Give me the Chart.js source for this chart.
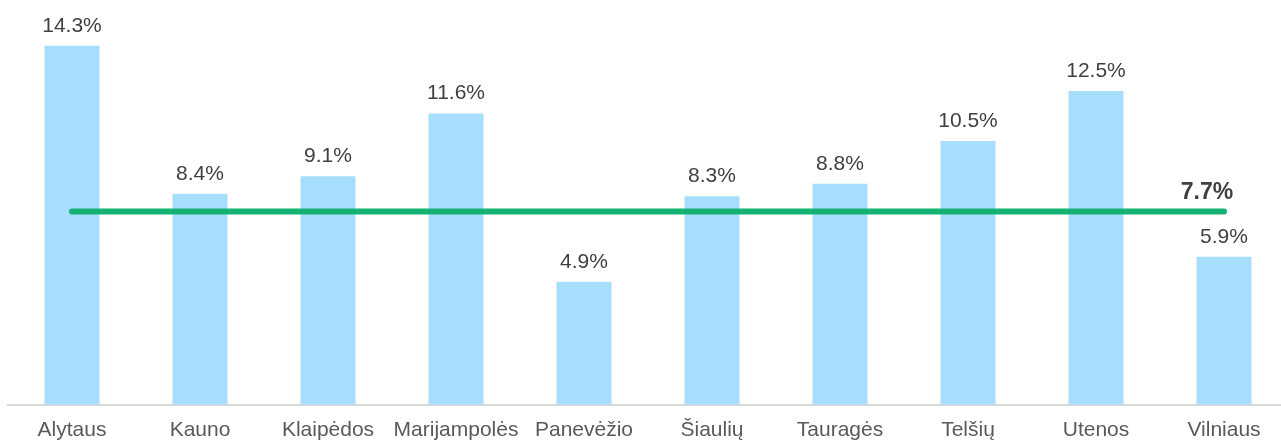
<!DOCTYPE html>
<html>
<head>
<meta charset="utf-8">
<script src="https://cdn.jsdelivr.net/npm/chart.js@4"></script>
<style>
  html, body { margin: 0; padding: 0; background: #fff; overflow: hidden; }
  #wrap { width: 1288px; height: 456px; }
</style>
</head>
<body>
<div id="wrap"><canvas id="chart"></canvas></div>
<script>
// duomenys
const categories = ["Alytaus", "Kauno", "Klaipėdos", "Marijampolės", "Panevėžio", "Šiaulių", "Tauragės", "Telšių", "Utenos", "Vilniaus"];
const rates = [14.3, 8.4, 9.1, 11.6, 4.9, 8.3, 8.8, 10.5, 12.5, 5.9];
const averageValue = 7.7;
const average = categories.map(() => averageValue);

// uzrasai virs stulpeliu + vidurkio reiksme
const labelPlugin = {
  id: "labels",
  afterDatasetsDraw(chart) {
    const ctx = chart.ctx;
    const bars = chart.getDatasetMeta(0).data;
    ctx.save();
    ctx.font = "21px 'Liberation Sans', Arial, sans-serif";
    ctx.fillStyle = "#404040";
    ctx.textAlign = "center";
    ctx.textBaseline = "alphabetic";
    bars.forEach((bar, i) => {
      ctx.fillText(rates[i].toFixed(1) + "%", bar.x, bar.y - 14);
    });
    const pts = chart.getDatasetMeta(1).data;
    const last = pts[pts.length - 1];
    ctx.font = "bold 23px 'Liberation Sans', Arial, sans-serif";
    ctx.fillText(averageValue.toFixed(1) + "%", last.x - 17, last.y - 12);
    ctx.restore();
  }
};

new Chart(document.getElementById("chart"), {
  type: "bar",
  data: {
    labels: categories,
    datasets: [
      {
        type: "bar",
        data: rates,
        backgroundColor: "#a7ddfd",
        barPercentage: 0.43,
        categoryPercentage: 1,
        order: 2
      },
      {
        type: "line",
        data: average,
        borderColor: "#15b173",
        borderWidth: 6,
        borderCapStyle: "round",
        pointRadius: 0,
        fill: false,
        order: 1
      }
    ]
  },
  options: {
    responsive: true,
    maintainAspectRatio: false,
    animation: false,
    layout: { padding: { left: 8, right: 0, top: 3, bottom: 0 } },
    plugins: { legend: { display: false }, tooltip: { enabled: false } },
    scales: {
      x: {
        grid: { display: false, drawTicks: false },
        border: { display: true, color: "#d9d9d9", width: 2 },
        ticks: {
          color: "#595959",
          font: { family: "'Liberation Sans', Arial, sans-serif", size: 21 },
          padding: 13,
          autoSkip: false,
          maxRotation: 0
        }
      },
      y: {
        display: false,
        min: 0,
        max: 16
      }
    }
  },
  plugins: [labelPlugin]
});
</script>
</body>
</html>
